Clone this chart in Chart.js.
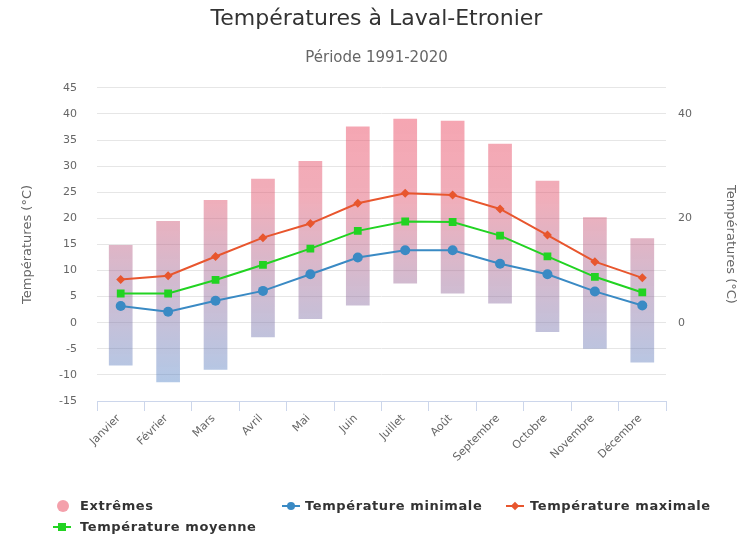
<!DOCTYPE html>
<html>
<head>
<meta charset="utf-8">
<script src="https://cdn.jsdelivr.net/npm/chart.js@4.4.1/dist/chart.umd.min.js"></script>
<style>
  html, body { margin: 0; padding: 0; background: #fff; }
  #wrap { position: relative; width: 753px; height: 541px; }
  canvas { position: absolute; left: 0; top: 0; }
  .lg { position: absolute; font-family: "DejaVu Sans", sans-serif; font-weight: bold; font-size: 13px; letter-spacing: 0.6px; color: #333; white-space: nowrap; line-height: 15px; }
  .mk { position: absolute; }
</style>
</head>
<body>
<div id="wrap">
  <canvas id="c" width="753" height="541"></canvas>
  <div id="legend"></div>
</div>
<script>
const categories = ['Janvier','Février','Mars','Avril','Mai','Juin','Juillet','Août','Septembre','Octobre','Novembre','Décembre'];
const extremesLow  = [-8.2, -11.4, -9.0, -2.8, 0.7, 3.3, 7.5, 5.6, 3.7, -1.8, -5.0, -7.6];
const extremesHigh = [14.9, 19.5, 23.5, 27.6, 31.0, 37.6, 39.1, 38.7, 34.3, 27.2, 20.2, 16.2];
const tempMin = [3.2, 2.1, 4.2, 6.1, 9.3, 12.5, 13.9, 13.9, 11.3, 9.3, 6.0, 3.3];
const tempMoy = [5.6, 5.6, 8.2, 11.1, 14.2, 17.6, 19.4, 19.3, 16.7, 12.7, 8.8, 5.8];
const tempMax = [8.3, 9.0, 12.7, 16.3, 19.0, 22.9, 24.8, 24.5, 21.8, 16.8, 11.7, 8.6];
const leftTicks = [-15, -10, -5, 0, 5, 10, 15, 20, 25, 30, 35, 40, 45];
const rightTicks = [0, 20, 40];
const seriesNames = ['Extrêmes', 'Température minimale', 'Température maximale', 'Température moyenne'];

const FONT = '"DejaVu Sans", sans-serif';
const colMin = '#3a8ac4';
const colMoy = '#22d322';
const colMax = '#e8562e';

function barGradient(ctx) {
  const chart = ctx.chart;
  const a = chart.chartArea;
  if (!a) return 'rgba(200,150,180,0.5)';
  const g = chart.ctx.createLinearGradient(0, a.top, 0, a.bottom);
  g.addColorStop(0, 'rgba(240,70,95,0.5)');
  g.addColorStop(0.35, 'rgba(225,85,110,0.48)');
  g.addColorStop(1, 'rgba(60,130,205,0.42)');
  return g;
}

const chart = new Chart(document.getElementById('c'), {
  data: {
    labels: categories,
    datasets: [
      {
        type: 'bar', label: seriesNames[0],
        data: extremesLow.map((v, i) => [v, extremesHigh[i]]),
        backgroundColor: barGradient, borderWidth: 0,
        barPercentage: 0.5, categoryPercentage: 1, order: 10, yAxisID: 'y'
      },
      {
        type: 'line', label: seriesNames[1], data: tempMin,
        borderColor: colMin, backgroundColor: colMin, borderWidth: 2,
        pointStyle: 'circle', pointRadius: 5, pointBorderWidth: 0,
        tension: 0, order: 3, yAxisID: 'y'
      },
      {
        type: 'line', label: seriesNames[2], data: tempMax,
        borderColor: colMax, backgroundColor: colMax, borderWidth: 2,
        pointStyle: 'rectRot', pointRadius: 4.5, pointBorderWidth: 0,
        tension: 0, order: 1, yAxisID: 'y'
      },
      {
        type: 'line', label: seriesNames[3], data: tempMoy,
        borderColor: colMoy, backgroundColor: colMoy, borderWidth: 2,
        pointStyle: 'rect', pointRadius: 5.5, pointBorderWidth: 0,
        tension: 0, order: 2, yAxisID: 'y'
      }
    ]
  },
  options: {
    responsive: false,
    animation: false,
    layout: { padding: { left: 0, right: 0, top: 0, bottom: 70 } },
    plugins: {
      legend: { display: false },
      tooltip: { enabled: false },
      title: {
        display: true, text: 'Températures à Laval-Etronier', color: '#333',
        font: { family: FONT, size: 22, weight: 'normal' },
        padding: { top: 6, bottom: 0 }
      },
      subtitle: {
        display: true, text: 'Période 1991-2020', color: '#666',
        font: { family: FONT, size: 15, weight: 'normal' },
        padding: { top: 16.5, bottom: 21 }
      }
    },
    scales: {
      x: {
        offset: true,
        grid: { offset: true, drawOnChartArea: false, drawTicks: true, tickLength: 10, color: '#ccd6eb', lineWidth: 1 },
        border: { display: true, color: '#ccd6eb', width: 1 },
        ticks: { color: '#666', font: { family: FONT, size: 11 }, minRotation: 45, maxRotation: 45, autoSkip: false, padding: 1, labelOffset: -2 },
        afterFit: s => { s.height = 70; }
      },
      y: {
        position: 'left', min: -15, max: 45,
        afterBuildTicks: s => { s.ticks = leftTicks.map(v => ({ value: v })); },
        grid: { color: '#e6e6e6', drawTicks: false, lineWidth: 1 },
        border: { display: false },
        ticks: { color: '#666', font: { family: FONT, size: 11 }, padding: 20 },
        title: { display: true, text: 'Températures (°C)', color: '#666', font: { family: FONT, size: 13 }, padding: { top: 20, bottom: 0 } },
        afterFit: s => { s.width = 97; }
      },
      y1: {
        position: 'right', min: -15, max: 45,
        afterBuildTicks: s => { s.ticks = rightTicks.map(v => ({ value: v })); },
        grid: { drawOnChartArea: false, drawTicks: false },
        border: { display: false },
        ticks: { color: '#666', font: { family: FONT, size: 11 }, padding: 12 },
        title: { display: true, text: 'Températures (°C)', color: '#666', font: { family: FONT, size: 13 }, padding: { top: 15, bottom: 0 } },
        afterFit: s => { s.width = 87; }
      }
    }
  }
});

// HTML legend
const legend = document.getElementById('legend');
const items = [
  { name: seriesNames[0], kind: 'bubble', color: 'rgba(240,120,135,0.7)', mx: 63, tx: 80, y: 506 },
  { name: seriesNames[1], kind: 'circle', color: colMin, mx: 291, tx: 305, y: 506 },
  { name: seriesNames[2], kind: 'diamond', color: colMax, mx: 515, tx: 530, y: 506 },
  { name: seriesNames[3], kind: 'square', color: colMoy, mx: 62, tx: 80, y: 527 }
];
items.forEach(it => {
  if (it.kind === 'bubble') {
    const m = document.createElement('div');
    m.className = 'mk';
    m.style.cssText = `left:${it.mx-6}px;top:${it.y-6}px;width:12px;height:12px;border-radius:50%;background:${it.color};`;
    legend.appendChild(m);
  } else {
    const l = document.createElement('div');
    l.className = 'mk';
    l.style.cssText = `left:${it.mx-9}px;top:${it.y-1}px;width:18px;height:2px;background:${it.color};`;
    legend.appendChild(l);
    const m = document.createElement('div');
    m.className = 'mk';
    let s = '';
    if (it.kind === 'circle') s = `left:${it.mx-4}px;top:${it.y-4}px;width:8px;height:8px;border-radius:50%;`;
    if (it.kind === 'square') s = `left:${it.mx-4}px;top:${it.y-4}px;width:8px;height:8px;`;
    if (it.kind === 'diamond') s = `left:${it.mx-3}px;top:${it.y-3}px;width:6px;height:6px;transform:rotate(45deg);`;
    m.style.cssText = s + `background:${it.color};`;
    legend.appendChild(m);
  }
  const t = document.createElement('div');
  t.className = 'lg';
  t.textContent = it.name;
  t.style.left = it.tx + 'px';
  t.style.top = (it.y - 8) + 'px';
  legend.appendChild(t);
});
</script>
</body>
</html>
